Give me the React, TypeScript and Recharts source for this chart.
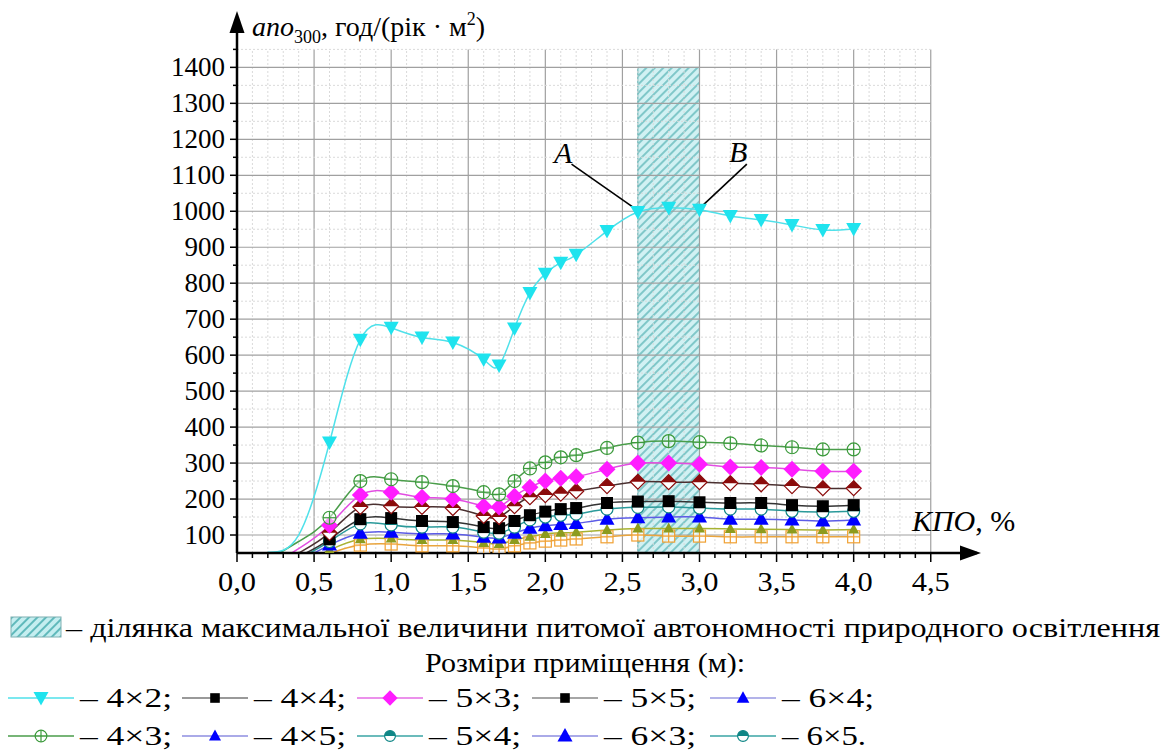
import React from 'react';
import { LineChart, Line, XAxis, YAxis, ReferenceLine, ReferenceArea, ReferenceDot } from 'recharts';

const SERIF = "'Liberation Serif', 'Times New Roman', serif";

// КПО, % (x positions of the measured points)
const kpo = [0.2, 0.4, 0.6, 0.8, 1.0, 1.2, 1.4, 1.6, 1.7, 1.8, 1.9, 2.0, 2.1, 2.2, 2.4, 2.6, 2.8, 3.0, 3.2, 3.4, 3.6, 3.8, 4.0];

// апо300, год/(рік·м2)
const room4x2 = [52, 100, 357, 643, 676, 649, 635, 588, 571, 674, 773, 826, 857, 879, 945, 998, 1010, 1004, 987, 976, 962, 948, 951];
const room4x3 = [30, 82, 148, 250, 255, 247, 236, 219, 213, 250, 285, 302, 316, 322, 342, 357, 361, 358, 355, 349, 344, 338, 338];
const room5x3 = [10, 62, 127, 211, 219, 205, 200, 180, 178, 208, 233, 250, 258, 262, 283, 300, 300, 297, 289, 288, 283, 277, 277];
const room4x4 = [0, 50, 106, 178, 180, 178, 175, 153, 150, 180, 205, 211, 215, 222, 236, 248, 247, 247, 244, 241, 236, 230, 230];
const room5x5 = [0, 40, 88, 144, 147, 139, 136, 122, 119, 139, 155, 165, 172, 175, 189, 193, 194, 191, 189, 189, 183, 180, 183];
const room5x4 = [0, 35, 82, 131, 128, 122, 122, 108, 105, 122, 142, 150, 155, 158, 172, 177, 178, 175, 172, 172, 166, 164, 166];
const room6x3 = [0, 30, 72, 105, 108, 103, 103, 94, 92, 105, 119, 126, 129, 132, 144, 148, 150, 150, 144, 144, 142, 139, 142];
const room6x4 = [0, 20, 58, 88, 90, 86, 86, 78, 75, 86, 95, 103, 106, 108, 114, 118, 118, 118, 117, 116, 115, 114, 115];
const room6x5 = [0, 15, 48, 72, 75, 70, 70, 64, 61, 70, 78, 83, 86, 89, 95, 100, 97, 97, 95, 95, 95, 95, 95];

const band = [2.6, 3.0];

const xTicks: number[] = [];
for (let i = 0; i <= 45; i++) xTicks.push(i / 10);
const yTicks: number[] = [];
for (let v = 100; v <= 1450; v += 50) yTicks.push(v);

const legendRow1 = ['4×2', '4×4', '5×3', '5×5', '6×4'];
const legendRow2 = ['4×3', '4×5', '5×4', '6×3', '6×5'];

const drawMarker = (shape: string, cx: number, cy: number, key?: string, k = 1) => {
  switch (shape) {
    case 'down':
      return <polygon key={key} points={`${cx - 7.5 * k},${cy - 6 * k} ${cx + 7.5 * k},${cy - 6 * k} ${cx},${cy + 7.5 * k}`} fill="#1fe3ee" />;
    case 'oplus': {
      const r = 6.5 * k;
      return (
        <g key={key} stroke="#3b9a3b" strokeWidth={1.2}>
          <circle cx={cx} cy={cy} r={r} fill="#fff" fillOpacity={0.5} />
          <line x1={cx - r} y1={cy} x2={cx + r} y2={cy} />
          <line x1={cx} y1={cy - r} x2={cx} y2={cy + r} />
        </g>
      );
    }
    case 'diamond': {
      const r = 8.5 * k;
      return <polygon key={key} points={`${cx},${cy - r} ${cx + r},${cy} ${cx},${cy + r} ${cx - r},${cy}`} fill="#ff1cff" />;
    }
    case 'halfDiamond': {
      const r = 7.5 * k;
      return (
        <g key={key}>
          <polygon points={`${cx},${cy - r} ${cx + r},${cy} ${cx},${cy + r} ${cx - r},${cy}`} fill="#fff" stroke="#8b0b0b" strokeWidth={1.2} />
          <polygon points={`${cx - r},${cy} ${cx},${cy - r} ${cx + r},${cy}`} fill="#8b0b0b" />
        </g>
      );
    }
    case 'square':
      return <rect key={key} x={cx - 6 * k} y={cy - 6 * k} width={12 * k} height={12 * k} fill="#000" />;
    case 'halfCircle': {
      const r = 6 * k;
      return (
        <g key={key}>
          <circle cx={cx} cy={cy} r={r} fill="#fff" stroke="#0f8686" strokeWidth={1.2} />
          <path d={`M${cx - r},${cy} A${r},${r} 0 0 1 ${cx + r},${cy} Z`} fill="#0f8686" />
        </g>
      );
    }
    case 'up':
      return <polygon key={key} points={`${cx},${cy - 8 * k} ${cx + 7.5 * k},${cy + 5.5 * k} ${cx - 7.5 * k},${cy + 5.5 * k}`} fill="#0000ff" />;
    case 'upOlive':
      return <polygon key={key} points={`${cx},${cy - 6} ${cx + 5.5},${cy + 4} ${cx - 5.5},${cy + 4}`} fill="#8c9b1e" />;
    case 'boxplus': {
      const r = 6 * k;
      return (
        <g key={key} stroke="#f0a032" strokeWidth={1.2}>
          <rect x={cx - r} y={cy - r} width={2 * r} height={2 * r} fill="#fff" fillOpacity={0.7} />
          <line x1={cx - r} y1={cy} x2={cx + r} y2={cy} />
          <line x1={cx} y1={cy - r} x2={cx} y2={cy + r} />
        </g>
      );
    }
    default:
      return <g key={key} />;
  }
};

const makeDot = (shape: string) => (props: any) => {
  const { cx, cy, payload, value, index } = props;
  if (cx == null || cy == null || payload.x < 0.55 || value < 50) return <g key={`d${index}`} />;
  return drawMarker(shape, cx, cy, `d${index}`);
};

const series = [
  { key: 'r6x5', values: room6x5, stroke: '#e9a53e', shape: 'boxplus' },
  { key: 'r6x4', values: room6x4, stroke: '#a7b232', shape: 'upOlive' },
  { key: 'r6x3', values: room6x3, stroke: '#5c5ce6', shape: 'up' },
  { key: 'r5x4', values: room5x4, stroke: '#2a9a9a', shape: 'halfCircle' },
  { key: 'r5x5', values: room5x5, stroke: '#333333', shape: 'square' },
  { key: 'r4x4', values: room4x4, stroke: '#4a3030', shape: 'halfDiamond' },
  { key: 'r5x3', values: room5x3, stroke: '#e24de2', shape: 'diamond' },
  { key: 'r4x3', values: room4x3, stroke: '#4a9d4a', shape: 'oplus' },
  { key: 'r4x2', values: room4x2, stroke: '#4fe1ea', shape: 'down' },
];

const data = kpo.map((x, i) => {
  const row: any = { x };
  series.forEach((s) => (row[s.key] = s.values[i]));
  return row;
});

const txt = { fontFamily: SERIF };

const XTick = ({ x, y, payload }: any) => {
  const v = payload.value;
  const major = Math.round(v * 10) % 5 === 0;
  return (
    <g>
      <line x1={x} y1={y} x2={x} y2={y + (major ? 9 : 5)} stroke="#000" strokeWidth={1.5} />
      {major && (
        <text x={x} y={y + 38} textAnchor="middle" fontSize={27} style={txt} fill="#000" textLength={38} lengthAdjust="spacingAndGlyphs">
          {v.toFixed(1).replace('.', ',')}
        </text>
      )}
    </g>
  );
};

const YTick = ({ x, y, payload }: any) => {
  const v = payload.value;
  const major = v % 100 === 0;
  const w = String(v).length * 13.5;
  return (
    <g>
      <line x1={x - (major ? 7 : 4)} y1={y} x2={x} y2={y} stroke="#000" strokeWidth={1.5} />
      {major && (
        <text x={x - 12} y={y + 9} textAnchor="end" fontSize={27} style={txt} fill="#000" textLength={w} lengthAdjust="spacingAndGlyphs">
          {v}
        </text>
      )}
    </g>
  );
};

const legendLine = (x: number, y: number, color: string, shape: string, k: number, key: string) => (
  <g key={key}>
    <line x1={x} y1={y} x2={x + 66} y2={y} stroke={color} strokeWidth={1.6} />
    {drawMarker(shape, x + 33, y, undefined, k)}
  </g>
);

const legendIcons1 = [
  { color: '#4fe1ea', shape: 'down', k: 1 },
  { color: '#777', shape: 'square', k: 0.8 },
  { color: '#e56ce5', shape: 'diamond', k: 0.9 },
  { color: '#888', shape: 'square', k: 0.8 },
  { color: '#9a9ae2', shape: 'up', k: 0.85 },
];
const legendIcons2 = [
  { color: '#4a9d4a', shape: 'oplus', k: 0.9 },
  { color: '#8e8ee0', shape: 'up', k: 0.8 },
  { color: '#3aa5a5', shape: 'halfCircle', k: 0.9 },
  { color: '#8e8ee0', shape: 'up', k: 1 },
  { color: '#3aa5a5', shape: 'halfCircle', k: 0.9 },
];
const legendX = [8, 182, 357, 532, 710];

const Hatch = ({ id }: { id: string }) => (
  <pattern id={id} patternUnits="userSpaceOnUse" width="6" height="6" patternTransform="rotate(45)">
    <rect width="6" height="6" fill="#c5eef0" />
    <line x1="1" y1="0" x2="1" y2="6" stroke="#55b4b6" strokeWidth="1.8" />
  </pattern>
);

export default function App() {
  return (
    <div style={{ position: 'absolute', left: 0, top: 0, width: 1169, height: 756, background: '#fff', overflow: 'hidden' }}>
      <LineChart width={1000} height={600} data={data} margin={{ top: 17, right: 23, left: 147, bottom: 2 }}>
        <defs>
          <Hatch id="hatch" />
        </defs>
        {xTicks.filter((v) => v > 0).map((v) => {
          const major = Math.round(v * 10) % 5 === 0;
          return (
            <ReferenceLine
              key={`vx${v}`}
              segment={[{ x: v, y: 50 }, { x: v, y: 1450 }]}
              stroke={major ? '#a0a0a0' : '#dadada'}
              strokeWidth={major ? 1.2 : 1}
              strokeDasharray={major ? undefined : '2 2'}
            />
          );
        })}
        {yTicks.map((v) => {
          const major = v % 100 === 0;
          return (
            <ReferenceLine
              key={`hy${v}`}
              segment={[{ x: 0, y: v }, { x: 4.5, y: v }]}
              stroke={major ? '#a0a0a0' : '#dadada'}
              strokeWidth={major ? 1.2 : 1}
              strokeDasharray={major ? undefined : '2 2'}
            />
          );
        })}
        <XAxis
          type="number"
          dataKey="x"
          domain={[0, 4.8]}
          ticks={xTicks}
          interval={0}
          tick={<XTick />}
          tickLine={false}
          tickSize={0}
          tickMargin={0}
          height={45}
          axisLine={{ stroke: '#000', strokeWidth: 2.5 }}
        />
        <YAxis
          type="number"
          domain={[50, 1540]}
          allowDataOverflow
          ticks={yTicks}
          interval={0}
          tick={<YTick />}
          tickLine={false}
          tickSize={0}
          tickMargin={0}
          width={90}
          axisLine={{ stroke: '#000', strokeWidth: 2.5 }}
        />
        {series.map((s) => (
          <Line
            key={s.key}
            type="natural"
            dataKey={s.key}
            stroke={s.stroke}
            strokeWidth={1.5}
            dot={makeDot(s.shape)}
            activeDot={false}
            isAnimationActive={false}
          />
        ))}
        <ReferenceArea x1={band[0]} x2={band[1]} y1={50} y2={1400} fill="url(#hatch)" fillOpacity={0.8} stroke="#5aa9ab" strokeWidth={1} />
        <ReferenceLine segment={[{ x: 2.17, y: 1131 }, { x: 2.594, y: 1004 }]} stroke="#000" strokeWidth={1.6} />
        <ReferenceLine segment={[{ x: 3.307, y: 1131 }, { x: 2.99, y: 1004 }]} stroke="#000" strokeWidth={1.6} />
        <ReferenceDot
          x={0}
          y={1540}
          r={1}
          ifOverflow="visible"
          shape={(p: any) => <polygon points={`${p.cx},${p.cy - 6} ${p.cx - 7.5},${p.cy + 16} ${p.cx + 7.5},${p.cy + 16}`} fill="#000" />}
        />
        <ReferenceDot
          x={4.8}
          y={50}
          r={1}
          ifOverflow="visible"
          shape={(p: any) => <polygon points={`${p.cx + 4},${p.cy} ${p.cx - 17},${p.cy - 7.5} ${p.cx - 17},${p.cy + 7.5}`} fill="#000" />}
        />
      </LineChart>

      <svg width={1169} height={756} style={{ position: 'absolute', left: 0, top: 0, pointerEvents: 'none', fontFamily: SERIF }}>
        <defs>
          <Hatch id="hatch2" />
        </defs>
        <text x={252} y={36} fontSize={28} fill="#000" style={txt}>
          <tspan fontStyle="italic">апо</tspan>
          <tspan fontSize={18} dy={7}>300</tspan>
          <tspan dy={-7}>, год/(рік · м</tspan>
          <tspan fontSize={18} dy={-11}>2</tspan>
          <tspan dy={11}>)</tspan>
        </text>
        <text x={912} y={531} fontSize={30} fill="#000" style={txt}>
          <tspan fontStyle="italic">КПО</tspan>, %
        </text>
        <text x={554} y={163} fontSize={30} fontStyle="italic" fill="#000" style={txt}>A</text>
        <text x={729} y={162} fontSize={30} fontStyle="italic" fill="#000" style={txt}>B</text>

        <rect x={11} y={617} width={50} height={20} fill="url(#hatch2)" stroke="#7fb0b2" strokeWidth={1} />
        <text x={66} y={637} fontSize={27} fill="#000" style={txt} textLength={1094} lengthAdjust="spacingAndGlyphs">
          – ділянка максимальної величини питомої автономності природного освітлення
        </text>
        <text x={425} y={672} fontSize={27} fill="#000" style={txt} textLength={320} lengthAdjust="spacingAndGlyphs">
          Розміри приміщення (м):
        </text>
        {legendRow1.map((label, i) => (
          <g key={`l1${i}`}>
            {legendLine(legendX[i], 698, legendIcons1[i].color, legendIcons1[i].shape, legendIcons1[i].k, `li1${i}`)}
            <text x={legendX[i] + 72} y={707} fontSize={27} fill="#000" style={txt} textLength={92} lengthAdjust="spacingAndGlyphs">
              {`– ${label};`}
            </text>
          </g>
        ))}
        {legendRow2.map((label, i) => (
          <g key={`l2${i}`}>
            {legendLine(legendX[i], 736, legendIcons2[i].color, legendIcons2[i].shape, legendIcons2[i].k, `li2${i}`)}
            <text x={legendX[i] + 72} y={745} fontSize={27} fill="#000" style={txt} textLength={i === 4 ? 84 : 92} lengthAdjust="spacingAndGlyphs">
              {`– ${label}${i === 4 ? '.' : ';'}`}
            </text>
          </g>
        ))}
      </svg>
    </div>
  );
}
